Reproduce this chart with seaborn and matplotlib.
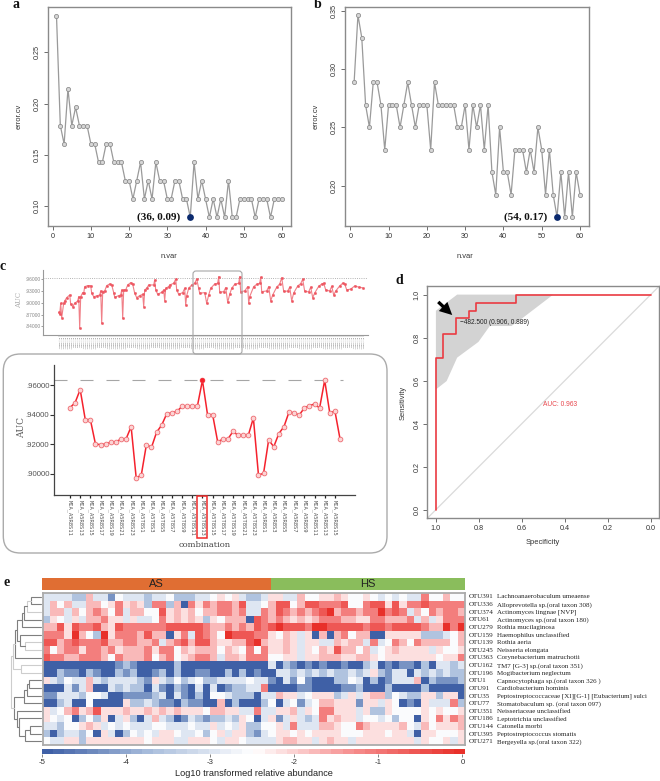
import numpy as np
import pandas as pd
import matplotlib
matplotlib.use("Agg")
import matplotlib.pyplot as plt
from matplotlib.colors import LinearSegmentedColormap
from matplotlib.patches import FancyBboxPatch, Rectangle
import seaborn as sns

# ---------- panel a / b ----------
error_a = [.2857,.1786,.1607,.2143,.1786,.1964,.1786,.1786,.1786,.1607,.1607,.1429,.1429,.1607,.1607,
           .1429,.1429,.1429,.125,.125,.1071,.125,.1429,.1071,.125,.1071,.1429,.125,.125,.1071,
           .1071,.125,.125,.1071,.1071,.0893,.1429,.1071,.125,.1071,.0893,.1071,.0893,.1071,.0893,
           .125,.0893,.0893,.1071,.1071,.1071,.1071,.0893,.1071,.1071,.1071,.0893,.1071,.1071,.1071]
error_b = [.2885,.3462,.3269,.2692,.25,.2885,.2885,.2692,.2308,.2692,.2692,.2692,.25,.2692,.2885,
           .2692,.25,.2692,.2692,.2692,.2308,.2885,.2692,.2692,.2692,.2692,.2692,.25,.25,.2692,
           .2308,.2692,.25,.2692,.2308,.2692,.2115,.1923,.25,.2115,.2115,.1923,.2308,.2308,.2308,
           .2115,.2308,.2115,.25,.2308,.1923,.2308,.1923,.1731,.2115,.1731,.2115,.1731,.2115,.1923]
best_a = (36, .0893, "(36, 0.09)")
best_b = (54, .1731, "(54, 0.17)")

# ---------- panel c ----------
overview_idx = [0,1,2,3,5,6,8,11,12,14,16,19,20,21,22,24,25,26,29,32,33,35,38,41,42,43,44,46,48,51,53,55,56,60,62,
                63,64,65,67,69,72,74,76,78,81,84,85,86,88,90,95,96,97,99,103,105,106,107,110,111,115,117,118,120,
                124,126,127,128,130,133,136,138,140,141,146,148,150,152,156,159,160,161,165,167,169,171,173,176,
                180,181,182,186,189,190,191,195,198,201,202,203,208,210,212,214,218,221,223,225,229,231,233,235,
                239,242,244,246,250,252,254,256,260,263,265,267,271,273,275,277,281,284,286,288,292,296,300,304]
overview_auc = [.8757,.8706,.8987,.8621,.8987,.9047,.9132,.9200,.8962,.8902,.8987,.9047,.9157,.8349,.9157,.9260,
                .9243,.9413,.9438,.9438,.9243,.9157,.9175,.9200,.9302,.8477,.9285,.9302,.9438,.9481,.9455,.9260,
                .9140,.9183,.9200,.9328,.8604,.9328,.9328,.9455,.9515,.9472,.9243,.9132,.9183,.9217,.8902,.9328,
                .9370,.9455,.9455,.9583,.9328,.9217,.9268,.9328,.9055,.9370,.9413,.9455,.9498,.9608,.9328,.9217,
                .9260,.9370,.8945,.9183,.9370,.9455,.9498,.9608,.9370,.9243,.9260,.8987,.9200,.9370,.9481,.9498,
                .9668,.9268,.9285,.9387,.9013,.9217,.9370,.9472,.9498,.9668,.9285,.9302,.9413,.8987,.9157,.9413,
                .9472,.9498,.9651,.9285,.9302,.9413,.9050,.9200,.9400,.9480,.9640,.9290,.9300,.9400,.9050,.9250,
                .9430,.9490,.9600,.9290,.9280,.9400,.9130,.9250,.9420,.9480,.9500,.9330,.9300,.9420,.9200,.9300,
                .9430,.9500,.9480,.9330,.9350,.9430,.9400,.9380]
best_auc = .9632
detail_auc = [.9448,.9482,.9571,.9367,.9367,.9201,.9197,.9201,.9213,.9215,.9235,.9235,.9319,.8970,.8991,.9197,
              .9179,.9281,.9330,.9407,.9412,.9423,.9457,.9457,.9462,.9457,.9634,.9401,.9401,.9215,.9235,.9235,
              .9287,.9260,.9260,.9260,.9378,.8991,.9002,.9229,.9183,.9272,.9319,.9419,.9412,.9398,.9446,.9462,
              .9473,.9446,.9634,.9412,.9426,.9238]
detail_ticks = ["MIA_A5R8S11","MIA_A5R8S13","MIA_A5R8S15","MIA_A5R8S17","MIA_A5R8S19","MIA_A5R8S21","MIA_A5R8S23",
                "MIA_A5T8S1","MIA_A5T8S3","MIA_A5T8S5","MIA_A5T8S7","MIA_A5T8S9","MIA_A5T8S11","MIA_A5T8S13",
                "MIA_A5T8S15","MIA_A5T8S17","MIA_A5T8S19","MIA_A5T8S21","MIA_A5T8S23",
                "MIA_A5R8S1","MIA_A5R8S3","MIA_A5R8S5","MIA_A5R8S7","MIA_A5R8S9","MIA_A5R8S11","MIA_A5R8S13","MIA_A5R8S15"]
auc_tick_values = [.90, .92, .94, .96]
auc_tick_labels = [".90000", ".92000", ".94000", ".96000"]
over_tick_values = [.84, .87, .90, .93, .96]
over_tick_labels = [".84000", ".87000", ".90000", ".93000", ".96000"]

# ---------- panel d ----------
roc_spec = [1.0, 1.0, .969, .969, .906, .906, .845, .845, .813, .813, .625, .625, 0.0]
roc_sens = [0.0, .704, .704, .815, .815, .889, .889, .926, .926, .963, .963, 1.0, 1.0]
ci_spec = [1.0, .901, .454, .594, .648, .749, .802, .901, .95, 1.0]
ci_sens = [.925, 1.0, 1.0, .893, .854, .854, .78, .707, .598, .559]

# ---------- panel e ----------
otu_ids = ["OTU391","OTU336","OTU374","OTU61","OTU279","OTU159","OTU139","OTU245","OTU363","OTU162",
           "OTU196","OTU1","OTU91","OTU35","OTU77","OTU351","OTU186","OTU144","OTU395","OTU271"]
otu_names = ["Lachnoanaerobaculum umeaense","Alloprevotella sp.(oral taxon 308)","Actinomyces lingnae [NVP]",
             "Actinomyces sp.(oral taxon 180)","Rothia mucilaginosa","Haemophilus unclassified","Rothia aeria",
             "Neisseria elongata","Corynebacterium matruchotii","TM7 [G-3] sp.(oral taxon 351)",
             "Mogibacterium neglectum","Capnocytophaga sp.(oral taxon 326 )","Cardiobacterium hominis",
             "Peptostreptococcaceae [XI][G-1] [Eubacterium] sulci","Stomatobaculum sp. (oral taxon 097)",
             "Neisseriaceae unclassified","Leptotrichia unclassified","Catonella morbi",
             "Peptostreptococcus stomatis","Bergeyella sp.(oral taxon 322)"]
# abundance class of each cell
abundance_class = [
 "33332263314333233422" "2334545322355336445" "5654454343433744644",
 "36463366457565277260" "7576776833468846887" "7784478858577877777",
 "36636467647366448565" "6466776733768767678" "9677677978736476776",
 "25435366755353347565" "6525466608767656567" "7766557766673635777",
 "66858778658777777888" "8876676768789888799" "8888878878888766979",
 "77759642957776866057" "3876498887754653506" "0674660055555222346",
 "88678777866776673678" "6886556689655653553" "3656637347647666646",
 "74677577675666757746" "5666465474755653546" "5866463456555535445",
 "87766777647666746745" "6776366577744553556" "6655665455555554557",
 "00000000001210000020" "0000000000030210101" "0010023010110203323",
 "00211021002120012020" "0110020201003323232" "3223235213303232322",
 "53243363233332153242" "3422333343310314100" "0224302013336021112",
 "00031360032322031021" "0303012233700001100" "0011200020000200000",
 "11333244300111123031" "0204432220336553455" "5235356624322552550",
 "00230040000522321102" "1100602000240341346" "6555155354010533372",
 "53467568555655656565" "5546655337335563547" "7555352254444545445",
 "54340242503520363201" "3212232540351353237" "5655344342440547576",
 "33244565343433344333" "4335343522445373336" "6544765555643645556",
 "20233240530243435543" "3424535521345545455" "5544455545530554445",
 "43355255555555455533" "5554355433335665535" "6553555555553544535",
]
level_values = [-5.0, -4.3, -3.6, -3.0, -2.55, -2.2, -1.7, -1.15, -0.6, -0.1]
groups = ["AS", "HS"]
group_widths = [229, 194]
group_colors = ["#E06E33", "#8ABD5C"]
cbar_ticks = [-5, -4, -3, -2, -1, 0]
# dendrogram joins: (child, child, join position); leaves 0-19, internal nodes from 20
dendro_joins = [(0,1,92),(20,2,82),(21,3,72),(22,4,66),(6,7,75),(5,24,60),(23,25,50),(26,8,44),(9,10,62),
                (27,28,38),(11,12,88),(30,13,80),(31,14,72),(17,18,90),(33,19,75),(16,34,58),(15,35,50),
                (32,36,42),(29,37,33)]
dendro_light = {21, 24, 28, 29, 38}

# ---------- set up ----------
W, H = 660, 781
sns.set_theme(style="white")
plt.rcParams["font.family"] = ["Liberation Sans", "DejaVu Sans"]
plt.rcParams["axes.unicode_minus"] = False
fig = plt.figure(figsize=(W/100, H/100), dpi=100, facecolor="white")


def axpx(l, t, r, b, **kw):
    return fig.add_axes([l/W, 1-b/H, (r-l)/W, (b-t)/H], **kw)


def r_axes(ax):
    for s in ax.spines.values():
        s.set_color("#8a8a8a")
        s.set_linewidth(1.0)
    ax.tick_params(axis="both", length=3, width=0.6, color="#555555", labelsize=5.2,
                   labelcolor="#333333", pad=2, bottom=True, left=True)
    ax.tick_params(axis="y", labelrotation=90)
    for t in ax.get_yticklabels():
        t.set_va("center")
    ax.set_xlabel("")
    ax.set_ylabel("")


def error_panel(box, values, best, xlim, ylim, yticks):
    ax = axpx(*box)
    sns.lineplot(x=np.arange(1, len(values)+1), y=values, ax=ax, color="#9a9a9a", linewidth=0.9,
                 marker="o", markersize=3.0, markerfacecolor="#d6d6d6", markeredgecolor="#8f8f8f",
                 markeredgewidth=0.6, estimator=None, sort=False)
    ax.scatter([best[0]], [best[1]], s=24, color="#0B2A6E", zorder=5, linewidths=0)
    ax.annotate(best[2], (best[0], best[1]), xytext=(-7, 0), textcoords="offset points", ha="right", va="center",
                family="Liberation Serif", weight="bold", fontsize=8, color="#111111")
    ax.set_xlim(*xlim)
    ax.set_ylim(*ylim)
    ax.set_xticks(range(0, 61, 10))
    ax.set_yticks(yticks)
    ax.set_yticklabels([f"{v:.2f}" for v in yticks])
    r_axes(ax)
    return ax


# panel a, b
error_panel((47.7, 7.3, 291, 226), error_a, best_a, (-1.3, 62.36), (.0808, .2938), [.10, .15, .20, .25])
error_panel((345, 7.3, 589, 226), error_b, best_b, (-1.38, 62.35), (.1654, .3529), [.20, .25, .30, .35])

# panel c overview
ax = axpx(42.7, 270, 368, 335)
ax.axhline(best_auc, color="#9a9a9a", lw=0.6, ls=":")
sns.lineplot(x=overview_idx, y=overview_auc, ax=ax, color="#F08088", linewidth=0.8, marker="o", markersize=1.8,
             markerfacecolor="#EE5560", markeredgecolor="#EE5560", markeredgewidth=0.2, estimator=None, sort=False)
ax.set_xlim(-16, 309.3)
ax.set_ylim(.8178, .9837)
sns.despine(ax=ax)
for s in ("left", "bottom"):
    ax.spines[s].set_color("#999999")
    ax.spines[s].set_linewidth(0.8)
tick_pos = np.arange(0, 306, 2)
ax.set_xticks(tick_pos)
ax.set_xticklabels([detail_ticks[i % len(detail_ticks)] for i in range(len(tick_pos))], rotation=-90,
                   fontsize=1.4, family="DejaVu Sans Mono", color="#666666")
ax.tick_params(axis="x", length=1.2, width=0.25, color="#666666", pad=0.5, bottom=True)
ax.set_yticks(over_tick_values)
ax.set_yticklabels(over_tick_labels, fontsize=3.5, color="#888888")
ax.tick_params(axis="y", length=1.5, width=0.5, color="#777777", pad=0.3, left=True)
ax.set_ylabel("")

# panel c detail
ax = axpx(54.3, 365, 355, 495)
ax.plot([-3.08, 53.5], [best_auc+.0002]*2, color="#a6a6a6", lw=0.8, ls=(0, (11.7, 11.7)))
sns.lineplot(x=np.arange(len(detail_auc)), y=detail_auc, ax=ax, color="#F5222D", linewidth=1.1, marker="o",
             markersize=3.4, markerfacecolor="#FCD4D4", markeredgecolor="#EE6A70", markeredgewidth=0.6,
             estimator=None, sort=False)
ax.scatter([int(np.argmax(detail_auc))], [max(detail_auc)], s=12, color="#F5222D", zorder=5, linewidths=0)
ax.set_xlim(-3.08, 55.95)
ax.set_ylim(.8855, .9738)
sns.despine(ax=ax)
for s in ("left", "bottom"):
    ax.spines[s].set_color("#444444")
    ax.spines[s].set_linewidth(0.9)
ax.set_xticks(np.arange(0, 2*len(detail_ticks), 2))
ax.set_xticklabels(detail_ticks, rotation=-90, fontsize=4, family="DejaVu Sans Mono", color="#555555")
ax.tick_params(axis="x", length=2.2, width=0.9, color="#222222", pad=1.2, bottom=True)
ax.set_yticks(auc_tick_values)
ax.set_yticklabels(auc_tick_labels, fontsize=5.6, color="#555555")
ax.tick_params(axis="y", length=3, width=0.8, color="#333333", pad=0.6, left=True)
ax.set_ylabel("")

# panel d
ax = axpx(427.3, 286, 659.3, 518.3)
ax.fill(ci_spec, ci_sens, color="#D3D3D3", lw=0)
ax.plot([1.04, -0.04], [-0.04, 1.04], color="#DADADA", lw=0.9)
sns.lineplot(x=roc_spec, y=roc_sens, ax=ax, color="#EA3B42", linewidth=1.2, estimator=None, sort=False)
ax.set_xlim(1.04, -0.04)
ax.set_ylim(-0.04, 1.04)
ax.annotate("", xy=(.924, .905), xytext=(.989, .966),
            arrowprops=dict(arrowstyle="simple,head_length=0.75,head_width=0.75,tail_width=0.2", color="black",
                            lw=0, shrinkA=0, shrinkB=0))
ax.text(.906-.018, .889-.017, "\u2212482.500 (0.906, 0.889)", fontsize=4.7, color="#222222", ha="left", va="center")
ax.text(.5, .487, "AUC: 0.963", fontsize=4.8, color="#E8464C", ha="left", va="center")
ticks = [1.0, .8, .6, .4, .2, 0.0]
ax.set_xticks(ticks)
ax.set_xticklabels([f"{t:.1f}" for t in ticks])
ax.set_yticks(ticks)
ax.set_yticklabels([f"{t:.1f}" for t in ticks])
r_axes(ax)

# panel e heatmap
data = np.array([[level_values[int(c)] for c in row] for row in abundance_class])
heat_df = pd.DataFrame(data, index=otu_ids)
cmap = LinearSegmentedColormap.from_list("abund", ["#3F60A6", "#A9BEDC", "#FFFFFF", "#F58A8A", "#E8302A"], N=38)
hax = axpx(42.5, 593, 465, 745)
cax = axpx(42, 749, 465, 754.3)
sns.heatmap(heat_df, ax=hax, cmap=cmap, vmin=-5, vmax=0.03, cbar_ax=cax,
            cbar_kws={"orientation": "horizontal", "ticks": cbar_ticks}, xticklabels=False, yticklabels=False)
hax.set_ylabel("")
for s in hax.spines.values():
    s.set_visible(True)
    s.set_color("#ababab")
    s.set_linewidth(1.3)
cax.set_xticks(cbar_ticks)
cax.set_xticklabels([str(t) for t in cbar_ticks], fontsize=5.6, color="#333333")
cax.tick_params(axis="x", length=2, width=0.5, color="#555555", pad=1.5, bottom=True)

# group bar
gax = axpx(42, 578, 465, 590)
left = 0
for g, w, c in zip(groups, group_widths, group_colors):
    gax.barh(0, w, left=left, height=1, color=c, lw=0)
    gax.text(left + w/2, 0, g, ha="center", va="center", fontsize=8, color="#222222")
    left += w
gax.set_xlim(0, sum(group_widths))
gax.set_ylim(-.5, .5)
gax.axis("off")

# dendrogram
dax = axpx(10, 593, 42, 745)
pos = {i: (124, i + .5) for i in range(20)}
for k, (a, b, xj) in enumerate(dendro_joins):
    node = 20 + k
    xa, ya = pos[a]
    xb, yb = pos[b]
    col = "#cdcdcd" if node in dendro_light else "#7f7f7f"
    dax.plot([xa, xj, xj, xb], [ya, ya, yb, yb], color=col, lw=0.8, solid_joinstyle="miter")
    pos[node] = (xj, (ya + yb) / 2)
dax.set_xlim(30, 126)
dax.set_ylim(20, 0)
dax.axis("off")

# overlay: frames, panel letters, labels
ov = fig.add_axes([0, 0, 1, 1], zorder=20)
ov.set_xlim(0, W)
ov.set_ylim(H, 0)
ov.axis("off")
ov.patch.set_alpha(0)
ov.add_patch(FancyBboxPatch((3.3+17, 354+17), 383.7-34, 199-34, boxstyle="round,pad=17,rounding_size=17",
                            fc="none", ec="#ababab", lw=1.0))
ov.add_patch(FancyBboxPatch((193+3, 271+3), 49-6, 83-6, boxstyle="round,pad=3,rounding_size=3",
                            fc="none", ec="#a6a6a6", lw=0.8))
ov.add_patch(Rectangle((196.7, 496), 10, 42.3, fc="none", ec="#EE2A2A", lw=1.1))
for s, x, y in [("a", 16, 5), ("b", 318, 5), ("c", 3, 266), ("d", 399, 281), ("e", 7, 583)]:
    ov.text(x, y, s, family="Liberation Serif", weight="bold", fontsize=10, ha="center", va="center", color="#111111")
small = dict(fontsize=5.4, color="#333333", ha="center", va="center")
ov.text(19, 116, "error.cv", rotation=90, **small)
ov.text(316, 116, "error.cv", rotation=90, **small)
ov.text(169, 256, "n.var", **small)
ov.text(465, 256, "n.var", **small)
ov.text(403, 403, "Sensitivity", rotation=90, **small)
ov.text(543, 543, "Specificity", **small)
ov.text(19, 300, "AUC", rotation=90, fontsize=5, color="#aaaaaa", ha="center", va="center", family="DejaVu Serif")
ov.text(22, 427, "AUC", rotation=90, fontsize=6.5, color="#555555", ha="center", va="center", family="DejaVu Serif")
ov.text(205, 545, "combination", fontsize=6, color="#444444", ha="center", va="center", family="DejaVu Serif")
ov.text(254, 774, "Log10 transformed relative abundance", fontsize=6.6, color="#222222", ha="center", va="center")
for i, (oid, nm) in enumerate(zip(otu_ids, otu_names)):
    y = 597 + 7.62 * i
    ov.text(469, y, oid, family="Liberation Serif", fontsize=5.0, color="#222222", va="center")
    ov.text(497, y, nm, family="Liberation Serif", fontsize=5.0, color="#222222", va="center")

fig.savefig("out.png", dpi=100, facecolor="white")
